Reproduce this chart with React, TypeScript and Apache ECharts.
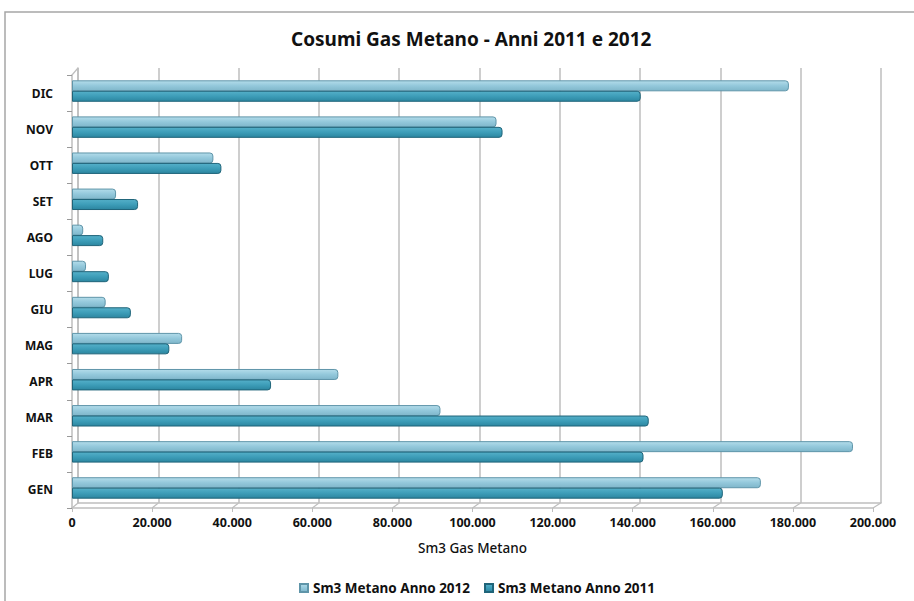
import React, { useEffect, useRef } from "react";
import * as echarts from "echarts";

const categories = ["GEN", "FEB", "MAR", "APR", "MAG", "GIU", "LUG", "AGO", "SET", "OTT", "NOV", "DIC"];
const values2012 = [172000, 195000, 92000, 66500, 27500, 8400, 3500, 2800, 11000, 35300, 106000, 179000];
const values2011 = [162500, 142700, 144000, 49700, 24300, 14700, 9200, 7800, 16500, 37300, 107500, 142000];
const seriesNames = ["Sm3 Metano Anno 2012", "Sm3 Metano Anno 2011"];
const xMax = 200000;
const xInterval = 20000;

const FONT = "'Noto Sans', sans-serif";

function fmt(v: number) {
  if (v === 0) return "0";
  return String(v / 1000) + ".000";
}

const lightGrad = () =>
  new echarts.graphic.LinearGradient(0, 0, 0, 1, [
    { offset: 0, color: "#B3DCEA" },
    { offset: 0.5, color: "#93C8DB" },
    { offset: 1, color: "#7FB6CA" },
  ]);
const darkGrad = () =>
  new echarts.graphic.LinearGradient(0, 0, 0, 1, [
    { offset: 0, color: "#55B0C9" },
    { offset: 0.5, color: "#3D9DB8" },
    { offset: 1, color: "#2C86A0" },
  ]);

export default function App() {
  const ref = useRef<HTMLDivElement>(null);
  useEffect(() => {
    if (!ref.current) return;
    const chart = echarts.init(ref.current, null, { renderer: "svg" });
    const gridColor = "#BEBEBE";
    const border = {
      type: "rect",
      shape: { x: 5, y: 12, width: 960, height: 700 },
      style: { fill: "none", stroke: "#A6A6A6", lineWidth: 1.5 },
      silent: true,
      z: -1,
    };
    chart.setOption({
      animation: false,
      backgroundColor: "#FFFFFF",
      title: {
        text: "Cosumi Gas Metano - Anni 2011 e 2012",
        left: 286,
        top: 24,
        textStyle: { fontFamily: FONT, fontSize: 19, fontWeight: "bold", color: "#111" },
      },
      legend: {
        bottom: 1,
        left: 294,
        itemWidth: 8,
        itemHeight: 8,
        itemGap: 14,
        icon: "rect",
        textStyle: { fontFamily: FONT, fontSize: 13.5, fontWeight: "bold", color: "#111" },
        data: seriesNames,
      },
      grid: [
        { left: 72, top: 75, width: 801, height: 433, containLabel: false },
        { left: 78, top: 68, width: 803, height: 435, containLabel: false },
        { left: 72, top: 73, width: 801, height: 433, containLabel: false },
      ],
      xAxis: [
        {
          type: "value",
          gridIndex: 0,
          min: 0,
          max: xMax,
          interval: xInterval,
          axisLine: { show: true, lineStyle: { color: gridColor, width: 1.5 } },
          axisTick: { show: true, length: 4, lineStyle: { color: gridColor } },
          splitLine: { show: false },
          axisLabel: {
            formatter: fmt,
            margin: 8,
            fontFamily: FONT,
            fontSize: 12.5,
            fontWeight: "bold",
            color: "#111",
          },
          name: "Sm3 Gas Metano",
          nameLocation: "middle",
          nameGap: 33,
          nameTextStyle: { fontFamily: FONT, fontSize: 13.5, fontWeight: 500, color: "#111" },
        },
        {
          type: "value",
          gridIndex: 1,
          min: 0,
          max: xMax,
          interval: xInterval,
          axisLine: { show: true, lineStyle: { color: gridColor, width: 1.5 } },
          axisTick: { show: false },
          axisLabel: { show: false },
          splitLine: { show: true, lineStyle: { color: gridColor, width: 1.5 } },
        },
        {
          type: "value",
          gridIndex: 2,
          min: 0,
          max: xMax,
          interval: xInterval,
          show: false,
        },
      ],
      yAxis: [
        {
          type: "category",
          gridIndex: 0,
          data: categories,
          axisLine: { show: true, lineStyle: { color: gridColor, width: 1.5 } },
          axisTick: { show: true, length: 5, lineStyle: { color: "#999" } },
          axisLabel: {
            margin: 19,
            fontFamily: FONT,
            fontSize: 12,
            fontWeight: "bold",
            color: "#111",
            padding: [3, 0, 0, 0],
          },
        },
        {
          type: "category",
          gridIndex: 1,
          data: categories,
          axisLine: { show: true, lineStyle: { color: gridColor, width: 1.5 } },
          axisTick: { show: false },
          axisLabel: { show: false },
        },
        {
          type: "category",
          gridIndex: 2,
          data: categories,
          show: false,
        },
      ],
      series: [
        {
          name: seriesNames[0],
          type: "bar",
          xAxisIndex: 2,
          yAxisIndex: 2,
          data: values2012,
          barWidth: 11,
          barGap: "-5%",
          itemStyle: {
            color: lightGrad(),
            borderColor: "#5F95A9",
            borderWidth: 1,
            borderRadius: [0, 3, 3, 0],
          },
        },
        {
          name: seriesNames[1],
          type: "bar",
          xAxisIndex: 2,
          yAxisIndex: 2,
          data: values2011,
          barWidth: 11,
          barGap: "-5%",
          itemStyle: {
            color: darkGrad(),
            borderColor: "#1F6479",
            borderWidth: 1,
            borderRadius: [0, 3, 3, 0],
          },
        },
      ],
      graphic: [border],
    });

    // 3D floor diagonals computed from the axis scale
    const lines: any[] = [];
    for (let v = 0; v <= xMax; v += xInterval) {
      const front = chart.convertToPixel({ xAxisIndex: 0, yAxisIndex: 0 }, [v, 0]) as number[];
      const back = chart.convertToPixel({ xAxisIndex: 1, yAxisIndex: 1 }, [v, 0]) as number[];
      const fy = 75 + 433;
      const by = 68 + 435;
      lines.push({
        type: "line",
        shape: { x1: front[0], y1: fy, x2: back[0], y2: by },
        style: { stroke: "#BEBEBE", lineWidth: 1.2 },
        silent: true,
      });
    }
    lines.push({
      type: "line",
      shape: { x1: 72, y1: 75, x2: 78, y2: 68 },
      style: { stroke: "#BEBEBE", lineWidth: 1.2 },
      silent: true,
    });
    chart.setOption({ graphic: [border, ...lines] });
    return () => chart.dispose();
  }, []);
  return (
    <div
      ref={ref}
      style={{ position: "fixed", left: 0, top: 0, width: 914, height: 601 }}
    />
  );
}
